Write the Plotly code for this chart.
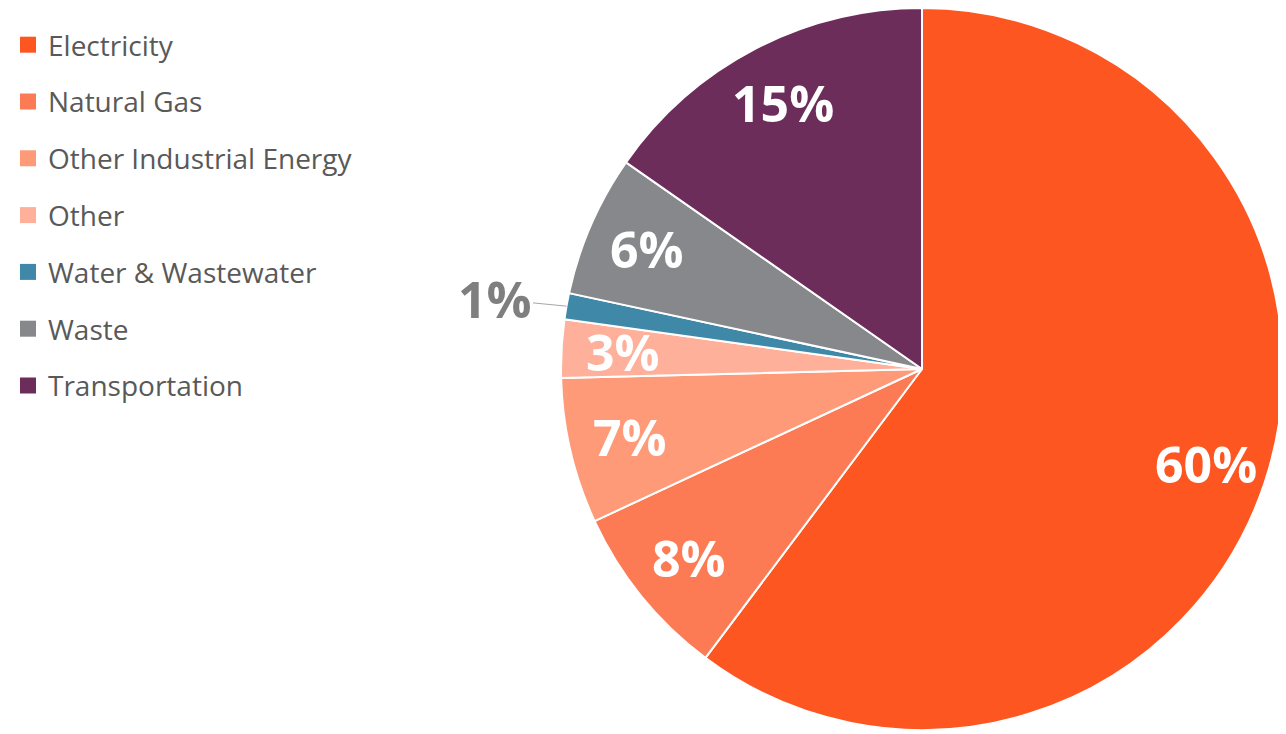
import math
import plotly.graph_objects as go

categories = ["Electricity", "Natural Gas", "Other Industrial Energy", "Other",
              "Water & Wastewater", "Waste", "Transportation"]
values = [60.24, 7.84, 6.52, 2.6, 1.17, 6.33, 15.3]
labels_text = ["60%", "8%", "7%", "3%", "1%", "6%", "15%"]
colors = ["#FE5621", "#FD7B54", "#FE9A78", "#FFB09A", "#3F88A8", "#87888C", "#6C2D5B"]
outside_label = ["no", "no", "no", "no", "yes", "no", "no"]

W, H = 1286, 734
M_T, M_B = 0, 12
PLOT_H = H - M_T - M_B
dom_x = [553 / W, 1275 / W]
LABEL_FRAC = 0.83

fig = go.Figure()

fig.add_trace(go.Pie(
    labels=categories,
    values=values,
    textinfo="none",
    sort=False,
    direction="clockwise",
    rotation=0,
    marker=dict(colors=colors, line=dict(color="white", width=2)),
    showlegend=False,
    domain=dict(x=dom_x, y=[0, 1]),
    hoverinfo="label+percent",
))

# data labels placed along each slice's bisector
total = sum(values)
cx = (dom_x[0] + dom_x[1]) / 2
cy = 0.5
r_px = PLOT_H / 2
cum = 0.0
for v, txt, outside in zip(values, labels_text, outside_label):
    mid = (cum + v / 2) / total * 2 * math.pi  # clockwise from 12 o'clock
    cum += v
    if outside == "yes":
        ex = cx + r_px * math.sin(mid) / W
        ey = cy + r_px * math.cos(mid) / PLOT_H
        fig.add_annotation(
            x=ex, y=ey, xref="paper", yref="paper",
            text=txt, showarrow=True, arrowhead=0, arrowwidth=1,
            arrowcolor="#a6a6a6", ax=-72, ay=-7,
            font=dict(family="Open Sans", size=50, color="#7f7f7f", weight="bold"),
        )
    else:
        lx = cx + LABEL_FRAC * r_px * math.sin(mid) / W
        ly = cy + LABEL_FRAC * r_px * math.cos(mid) / PLOT_H
        fig.add_annotation(
            x=lx, y=ly, xref="paper", yref="paper",
            text=txt, showarrow=False, xanchor="center", yanchor="middle",
            font=dict(family="Open Sans", size=50, color="white", weight="bold"),
        )

for i, (cat, col) in enumerate(zip(categories, colors)):
    fig.add_trace(go.Scatter(
        x=[None], y=[None], mode="markers", name=cat,
        legendgroup=f"g{i}",
        marker=dict(symbol="square", size=16, color=col),
        showlegend=True,
    ))

fig.update_layout(
    width=W, height=H,
    margin=dict(l=0, r=0, t=M_T, b=M_B),
    paper_bgcolor="white", plot_bgcolor="white",
    xaxis=dict(visible=False), yaxis=dict(visible=False),
    legend=dict(
        x=0, y=1 - 12 / PLOT_H, xanchor="left", yanchor="top",
        font=dict(family="Open Sans", size=28, color="#595959"),
        tracegroupgap=17.4,
        traceorder="grouped",
        itemclick=False,
    ),
    font=dict(family="Open Sans"),
)

fig.write_html("out.html")
